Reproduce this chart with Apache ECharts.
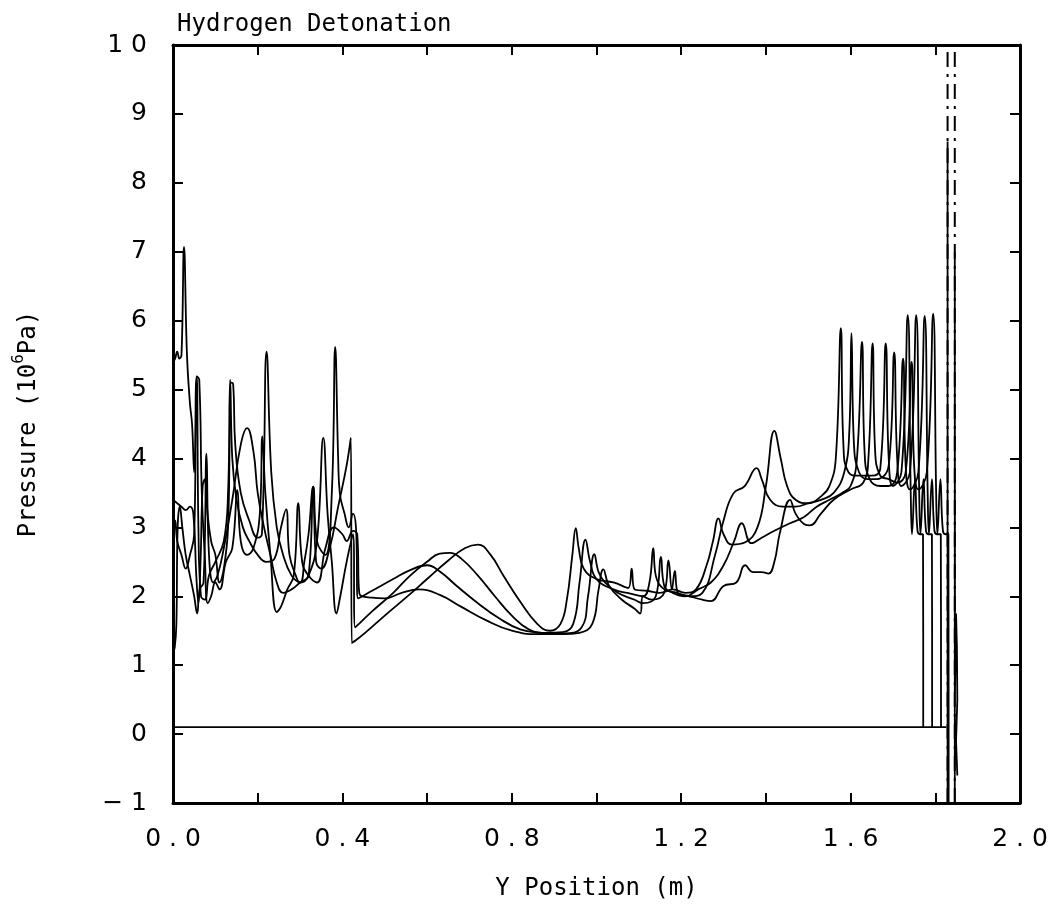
<!DOCTYPE html>
<html>
<head>
<meta charset="utf-8">
<script src="https://cdn.jsdelivr.net/npm/echarts@6/dist/echarts.min.js"></script>
<style>
html,body{margin:0;padding:0;background:#fff;}
#c{width:1055px;height:915px;}
</style>
</head>
<body>
<div id="c"></div>
<script>
// ---- data (x in m, pressure in 1e6 Pa) ----
const title = 'Hydrogen Detonation';
const xTicks = [0.0, 0.4, 0.8, 1.2, 1.6, 2.0];
const yTicks = [-1, 0, 1, 2, 3, 4, 5, 6, 7, 8, 9, 10];

const initialLine = [[0,0.1],[1.826,0.1]];

const curve0 = [[0,1.2],[0.004,1.25],[0.008,1.6],[0.011,3.0],[0.016,3.3],[0.022,3.0],[0.03,2.6],[0.04,2.3],[0.05,2.0],[0.057,1.75],[0.063,2.1],[0.072,2.2],[0.079,4.07],[0.085,2.6],[0.095,2.2],[0.105,2.3],[0.12,2.7],[0.14,3.4],[0.16,4.2],[0.175,4.44],[0.19,4.1],[0.2,3.5],[0.215,3.0],[0.23,2.6],[0.245,2.2],[0.26,2.05],[0.28,2.1],[0.3,2.2],[0.32,2.3],[0.331,3.59],[0.338,2.5],[0.35,2.4],[0.37,2.7],[0.39,3.3],[0.41,3.9],[0.42,4.3],[0.422,1.32],
[0.45,1.45],[0.5,1.72],[0.55,1.98],[0.6,2.25],[0.65,2.52],[0.69,2.7],[0.72,2.75],[0.75,2.6],[0.78,2.3],[0.82,1.92],[0.86,1.6],[0.89,1.5],[0.915,1.6],[0.93,1.95],[0.943,2.6],[0.951,2.99],[0.958,2.7],[0.97,2.4],[1.0,2.25],[1.04,2.2],[1.075,2.12],[1.083,2.4],[1.09,2.1],[1.12,2.08],[1.15,2.05],[1.18,2.1],[1.21,2.05],[1.235,2.1],[1.26,2.45],[1.275,2.8],[1.288,3.13],[1.3,2.9],[1.32,2.75],[1.35,2.78],[1.38,3.0],[1.40,3.6],[1.42,4.4],[1.435,4.0],[1.45,3.6],[1.47,3.4],[1.5,3.35],[1.53,3.45],[1.55,3.6],[1.565,4.0],[1.577,5.89],[1.583,4.2],[1.595,3.8],[1.62,3.75],[1.65,3.75],[1.67,3.85],[1.683,5.67],[1.69,4.0],[1.7,3.6],[1.72,3.8],[1.735,6.08],[1.742,3.5],[1.745,2.9],[1.752,3.7],[1.758,2.95],[1.765,2.9],[1.771,2.9],[1.7715,0.1]];

const curve1 = [[0,5.4],[0.005,5.45],[0.01,5.55],[0.015,5.45],[0.02,5.5],[0.026,7.07],[0.033,5.5],[0.04,4.8],[0.045,4.5],[0.05,3.8],[0.056,5.19],[0.06,3.0],[0.066,2.0],[0.075,1.95],[0.085,2.3],[0.1,2.5],[0.12,2.8],[0.13,3.5],[0.135,5.14],[0.14,4.0],[0.15,3.4],[0.165,3.0],[0.18,2.8],[0.2,2.6],[0.22,2.5],[0.24,2.55],[0.255,3.0],[0.267,3.26],[0.275,2.6],[0.29,2.3],[0.3,2.2],[0.32,2.3],[0.34,2.8],[0.355,4.3],[0.365,3.2],[0.375,2.5],[0.386,1.75],[0.395,2.0],[0.41,2.5],[0.425,2.9],[0.43,1.55],
[0.47,1.78],[0.52,2.05],[0.56,2.3],[0.6,2.5],[0.63,2.62],[0.654,2.63],[0.68,2.55],[0.72,2.3],[0.76,2.0],[0.8,1.72],[0.84,1.52],[0.88,1.47],[0.92,1.48],[0.945,1.6],[0.96,2.2],[0.974,2.82],[0.985,2.5],[1.0,2.25],[1.04,2.1],[1.08,2.04],[1.11,2.0],[1.125,2.2],[1.134,2.7],[1.14,2.3],[1.16,2.1],[1.19,2.05],[1.22,2.0],[1.25,2.05],[1.28,2.6],[1.3,3.1],[1.323,3.49],[1.35,3.6],[1.378,3.86],[1.39,3.7],[1.41,3.4],[1.44,3.3],[1.47,3.3],[1.5,3.35],[1.53,3.4],[1.56,3.5],[1.585,3.8],[1.597,4.4],[1.602,5.82],[1.608,4.2],[1.62,3.8],[1.64,3.7],[1.66,3.7],[1.69,3.9],[1.703,5.54],[1.71,4.0],[1.72,3.6],[1.74,3.8],[1.755,6.08],[1.762,3.5],[1.765,2.9],[1.772,3.7],[1.778,2.95],[1.785,2.9],[1.792,2.9],[1.7925,0.1]];

const curve2 = [[0,3.4],[0.01,3.35],[0.02,3.3],[0.03,3.25],[0.04,3.3],[0.048,3.2],[0.055,2.3],[0.06,1.9],[0.065,2.5],[0.07,3.6],[0.075,3.7],[0.08,3.3],[0.09,2.8],[0.1,2.6],[0.11,2.2],[0.12,2.4],[0.13,3.0],[0.137,5.1],[0.142,5.08],[0.147,4.2],[0.16,3.5],[0.18,3.1],[0.2,2.85],[0.21,2.9],[0.221,5.55],[0.232,3.8],[0.245,3.0],[0.26,2.6],[0.28,2.3],[0.3,2.2],[0.31,2.5],[0.32,2.9],[0.331,3.59],[0.34,2.8],[0.36,2.6],[0.375,3.5],[0.383,5.62],[0.39,4.0],[0.394,3.49],[0.405,3.2],[0.415,3.0],[0.425,3.2],[0.432,3.0],[0.437,1.97],
[0.47,2.08],[0.52,2.25],[0.56,2.38],[0.6,2.45],[0.63,2.36],[0.67,2.15],[0.72,1.9],[0.77,1.68],[0.82,1.52],[0.87,1.47],[0.92,1.46],[0.965,1.55],[0.98,2.0],[0.995,2.61],[1.005,2.35],[1.02,2.2],[1.05,2.05],[1.09,1.95],[1.11,1.9],[1.14,2.0],[1.152,2.57],[1.16,2.15],[1.18,2.05],[1.21,2.0],[1.24,2.1],[1.27,2.2],[1.3,2.45],[1.325,2.8],[1.343,3.06],[1.366,2.77],[1.39,2.85],[1.42,2.95],[1.457,3.06],[1.49,3.15],[1.52,3.3],[1.55,3.4],[1.58,3.5],[1.6,3.6],[1.615,4.0],[1.627,5.69],[1.633,4.1],[1.645,3.7],[1.67,3.6],[1.69,3.6],[1.71,3.8],[1.724,5.45],[1.73,3.9],[1.74,3.55],[1.76,3.8],[1.775,6.07],[1.782,3.5],[1.785,2.9],[1.792,3.7],[1.798,2.95],[1.805,2.9],[1.813,2.9],[1.8135,0.1]];

const curve3 = [[0,2.9],[0.005,3.1],[0.01,2.8],[0.02,2.6],[0.03,2.4],[0.04,2.6],[0.05,2.9],[0.056,5.19],[0.062,5.14],[0.068,3.5],[0.075,2.6],[0.082,1.9],[0.09,2.0],[0.1,2.2],[0.11,2.1],[0.125,2.5],[0.14,2.7],[0.152,3.54],[0.16,2.8],[0.175,2.6],[0.19,2.7],[0.205,3.2],[0.211,4.32],[0.218,3.5],[0.23,2.6],[0.245,1.77],[0.255,1.85],[0.27,2.1],[0.285,2.3],[0.296,3.35],[0.305,2.5],[0.32,2.3],[0.34,2.2],[0.36,2.7],[0.38,3.0],[0.4,2.9],[0.41,2.8],[0.425,2.95],[0.435,2.9],[0.44,2.04],
[0.47,1.98],[0.5,1.97],[0.54,2.05],[0.58,2.1],[0.63,2.02],[0.68,1.85],[0.74,1.65],[0.8,1.5],[0.86,1.45],[0.92,1.45],[0.96,1.47],[0.99,1.6],[1.005,2.1],[1.016,2.39],[1.03,2.15],[1.06,1.95],[1.09,1.82],[1.103,1.75],[1.11,2.0],[1.13,1.95],[1.16,2.05],[1.17,2.52],[1.178,2.1],[1.185,2.37],[1.192,2.05],[1.22,2.0],[1.25,1.95],[1.27,1.93],[1.3,2.15],[1.33,2.2],[1.351,2.45],[1.37,2.35],[1.39,2.35],[1.406,2.33],[1.42,2.5],[1.433,2.92],[1.457,3.4],[1.47,3.2],[1.49,3.05],[1.504,3.03],[1.53,3.2],[1.56,3.4],[1.6,3.55],[1.63,3.65],[1.642,4.0],[1.652,5.67],[1.658,4.1],[1.67,3.75],[1.69,3.7],[1.71,3.65],[1.73,3.8],[1.744,5.40],[1.75,3.9],[1.76,3.55],[1.78,3.8],[1.795,6.10],[1.802,3.5],[1.805,2.9],[1.812,3.7],[1.818,2.95],[1.825,2.9],[1.831,2.9],[1.8315,-1.5]];

const wallA = [[1.829,8.6],[1.829,-1.5]];
const wallB = [[1.846,-1.5],[1.846,7.0],[1.8465,0.6],[1.849,1.75],[1.851,1.26],[1.852,0.5],[1.849,-0.1],[1.852,-0.6]];
const dashLineA = [[1.829,-1],[1.829,10]];
const dashLineB = [[1.846,-1],[1.846,10]];

// ---- chart ----
const chart = echarts.init(document.getElementById('c'), null, {renderer:'canvas'});
const FONT = 'DejaVu Sans';
const MONO = 'DejaVu Sans Mono';
function spaced(s){ return s.split('').join(' '); }
function curveSeries(d, extra){
  return Object.assign({
    type:'line', data:d, showSymbol:false, symbol:'none',
    smooth:0.45,
    lineStyle:{color:'#000', width:1.8}, animation:false, silent:true, z:3
  }, extra||{});
}
function axisCommon(){
  return {
    axisLine:{show:true, onZero:false, lineStyle:{color:'#000', width:3}},
    axisTick:{show:true, inside:true, length:10, lineStyle:{color:'#000', width:2}},
    splitLine:{show:false}
  };
}
chart.setOption({
  backgroundColor:'#fff',
  animation:false,
  title:{text:title, left:172, top:8, textStyle:{fontFamily:MONO, fontWeight:'normal', fontSize:24, color:'#000'}},
  grid:{left:173, right:35, top:45, bottom:112},
  xAxis:[
    Object.assign(axisCommon(), {type:'value', min:0, max:2, interval:0.2, position:'bottom',
      name:'Y Position (m)', nameLocation:'middle', nameGap:74,
      nameTextStyle:{fontFamily:MONO, fontSize:24, color:'#000'},
      axisLabel:{show:true, margin:24, fontFamily:FONT, fontSize:25, color:'#000',
        formatter:function(v){ const r=Math.round(v*10); if(r%4!==0) return ''; return spaced((r/10).toFixed(1)); }}
    }),
    Object.assign(axisCommon(), {type:'value', min:0, max:2, interval:0.2, position:'top', axisLabel:{show:false}})
  ],
  yAxis:[
    Object.assign(axisCommon(), {type:'value', min:-1, max:10, interval:1, position:'left',
      name:'{a|Pressure (10}{b|6}{a|Pa)}', nameLocation:'middle', nameGap:132, nameRotate:90,
      nameTextStyle:{rich:{a:{fontFamily:MONO, fontSize:24, color:'#000', lineHeight:30, verticalAlign:'bottom'},
                           b:{fontFamily:MONO, fontSize:16, color:'#000', lineHeight:30, verticalAlign:'top'}}},
      axisLabel:{show:true, margin:26, fontFamily:FONT, fontSize:25, color:'#000',
        formatter:function(v){ if(v<0) return '\u2212 '+Math.abs(v); return spaced(String(v)); }}
    }),
    Object.assign(axisCommon(), {type:'value', min:-1, max:10, interval:1, position:'right', axisLabel:{show:false}})
  ],
  series:[
    curveSeries(initialLine, {smooth:false}),
    curveSeries(curve0),
    curveSeries(curve1),
    curveSeries(curve2),
    curveSeries(curve3),
    curveSeries(wallA, {smooth:false}),
    curveSeries(wallB, {smooth:false}),
    curveSeries(dashLineA, {smooth:false, lineStyle:{color:'#000', width:2, type:[15,7,3,7]}}),
    curveSeries(dashLineB, {smooth:false, lineStyle:{color:'#000', width:2, type:[15,7,3,7]}})
  ]
});
</script>
</body>
</html>
